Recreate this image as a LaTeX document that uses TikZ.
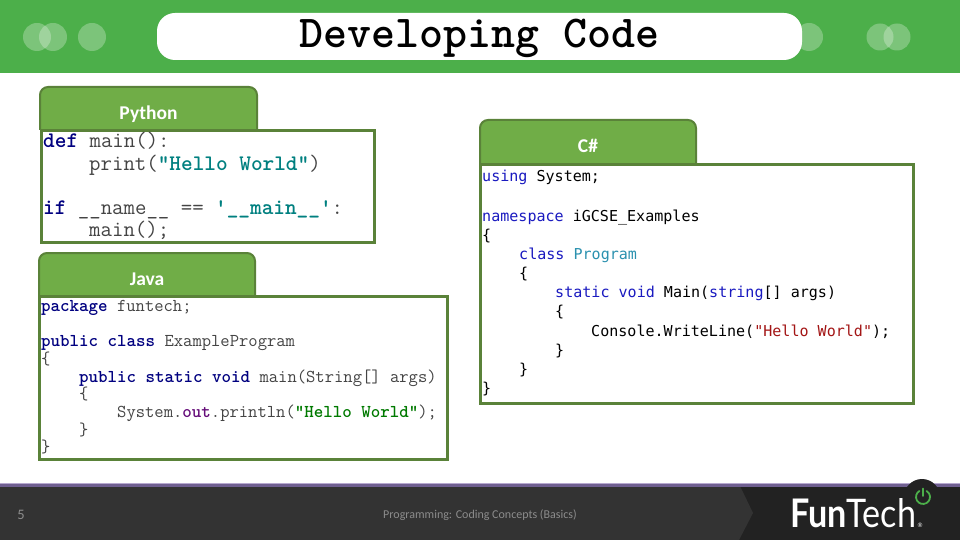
\documentclass[tikz,border=0pt]{standalone}
\usepackage{graphicx}
\usepackage{fontspec}
\setmainfont{Carlito}
\newcommand{\pymono}{\ttfamily}
\newfontfamily\csmono{DejaVu Sans Mono}
\newfontfamily\logofont{Lato}
\definecolor{band}{HTML}{4CAF4A}
\definecolor{tabfill}{HTML}{70AD47}
\definecolor{tabline}{HTML}{5A8239}
\definecolor{boxline}{HTML}{5A8239}
\definecolor{footdark}{HTML}{333333}
\definecolor{footblack}{HTML}{222222}
\definecolor{footline}{HTML}{6F5F90}
\definecolor{footlight}{HTML}{B7A9CF}
\definecolor{kwnavy}{HTML}{000080}
\definecolor{strteal}{HTML}{008080}
\definecolor{strgreen}{HTML}{007A00}
\definecolor{outpurple}{HTML}{660E7A}
\definecolor{plain}{HTML}{444444}
\definecolor{csblue}{HTML}{1A1AC0}
\definecolor{csteal}{HTML}{2B91AF}
\definecolor{csred}{HTML}{A31515}
\definecolor{powergreen}{HTML}{4CAF4A}
\definecolor{footgray}{HTML}{8C8C8C}
\newcommand{\kw}[1]{{\bfseries\color{kwnavy}#1}}
\newcommand{\st}[1]{{\bfseries\color{strteal}#1}}
\newcommand{\sg}[1]{{\bfseries\color{strgreen}#1}}
\newcommand{\cb}[1]{{\color{csblue}#1}}
\tikzset{
  x=1pt,y=-1pt,
  dot/.style={fill=white,fill opacity=0.27},
  tabshape/.style={draw=tabline,fill=tabfill,line width=2pt},
  tablabel/.style={text=white,anchor=base,font=\fontsize{19.5}{22}\selectfont\bfseries,inner sep=0pt},
  codebox/.style={draw=boxline,fill=white,line width=3pt,inner sep=0pt},
  base/.style={anchor=base west,inner sep=0pt,text=plain},
  pyline/.style={base,font=\pymono\fontsize{22.2}{24}\selectfont},
  javaline/.style={base,font=\pymono\fontsize{18.1}{20}\selectfont},
  csline/.style={base,text=black,font=\csmono\fontsize{15.05}{18}\selectfont},
}
\begin{document}
\begin{tikzpicture}
\useasboundingbox (0,0) rectangle (960,540);
\fill[white] (0,0) rectangle (960,540);
% header
\fill[band] (0,0) rectangle (960,73);
\fill[dot] (37,37) circle (14);
\fill[dot] (53,37) circle (14);
\fill[dot] (92,37) circle (14);
\fill[dot] (809,37) circle (14);
\fill[dot] (880,37) circle (13.5);
\fill[dot] (897,37) circle (13.5);
\fill[white,rounded corners=18pt] (157,13) rectangle (802,60);
\node[anchor=base,inner sep=0pt,font=\pymono\bfseries\fontsize{45.7}{48}\selectfont] (title) at (479.5,48) {Developing Code};
% python
\draw[tabshape] (40,130) [rounded corners=8pt] -- (40,87) -- (257,87) -- (257,130) [sharp corners];
\node[tablabel] (pytab) at (148.5,120) {Python};
\node[codebox,minimum width=333pt,minimum height=112pt] (pybox) at (207.5,186.5) {};
\node[pyline] (py1) at (43,148) {\kw{def} main():};
\node[pyline] (py2) at (89,170.5) {print(\st{"Hello World"})};
\node[pyline] (py3) at (43,214) {\kw{if} \_\_name\_\_ == \st{'\_\_main\_\_'}:};
\node[pyline] (py4) at (89,236) {main();};
% java
\draw[tabshape] (39,296) [rounded corners=8pt] -- (39,253) -- (255,253) -- (255,296) [sharp corners];
\node[tablabel] (jvtab) at (147,285) {Java};
\node[codebox,minimum width=408pt,minimum height=163pt] (jvbox) at (243.5,378) {};
\node[javaline] (jv1) at (41,311) {\kw{package} funtech;};
\node[javaline] (jv2) at (41,346.5) {\kw{public class} ExampleProgram};
\node[javaline] (jv3) at (41,364) {\{};
\node[javaline] (jv4) at (79,382) {\kw{public static void} main(String[] args)};
\node[javaline] (jv5) at (79,399.5) {\{};
\node[javaline] (jv6) at (117,417) {System.{\bfseries\color{outpurple}out}.println(\sg{"Hello World"});};
\node[javaline] (jv7) at (79,435) {\}};
\node[javaline] (jv8) at (41,452.5) {\}};
% csharp
\draw[tabshape] (480,164) [rounded corners=8pt] -- (480,120) -- (696,120) -- (696,164) [sharp corners];
\node[tablabel] (cstab) at (588,153) {C\#};
\node[codebox,minimum width=433pt,minimum height=238pt] (csbox) at (697,284) {};
\node[csline] (cs1) at (482,182) {\cb{using} System;};
\node[csline] (cs2) at (482,221) {\cb{namespace} iGCSE\_Examples};
\node[csline] (cs3) at (482,240) {\{};
\node[csline] (cs4) at (519,259) {\cb{class} {\color{csteal}Program}};
\node[csline] (cs5) at (519,278) {\{};
\node[csline] (cs6) at (555,297.5) {\cb{static void} Main(\cb{string}[] args)};
\node[csline] (cs7) at (555,316.5) {\{};
\node[csline] (cs8) at (591,336) {Console.WriteLine({\color{csred}"Hello World"});};
\node[csline] (cs9) at (555,355) {\}};
\node[csline] (cs10) at (519,374) {\}};
\node[csline] (cs11) at (482,393.5) {\}};
% footer
\fill[footblack] (0,486) rectangle (960,540);
\fill[footdark] (0,486) -- (740,486) -- (753,513) -- (739,540) -- (0,540) -- cycle;
\fill[footlight] (0,482.5) rectangle (960,484);
\fill[footline] (0,484) rectangle (960,486.5);
\fill[footblack] (922,497) circle (18);
\node[text=footgray,inner sep=0pt,font=\fontsize{14.5}{16}\selectfont] (pageno) at (21,515) {5};
\node[text=footgray,inner sep=0pt,font=\fontsize{12}{14}\selectfont] (foottext) at (480,515) {Programming: Coding Concepts (Basics)};
\node[anchor=base west,inner sep=0pt,text=white] (logo) at (790,527) {\resizebox{126pt}{29pt}{\logofont{\bfseries Fun}Tech}};
\node[anchor=base west,inner sep=0pt,text=white,font=\logofont\fontsize{6}{7}\selectfont] (reg) at (917.5,527) {®};
\draw[powergreen,line width=1.8pt,line cap=round] (919.5,490.9) arc[start angle=120,end angle=420,radius=7pt];
\draw[powergreen,line width=1.8pt,line cap=round] (923,488.5) -- (923,496);
\end{tikzpicture}
\end{document}
